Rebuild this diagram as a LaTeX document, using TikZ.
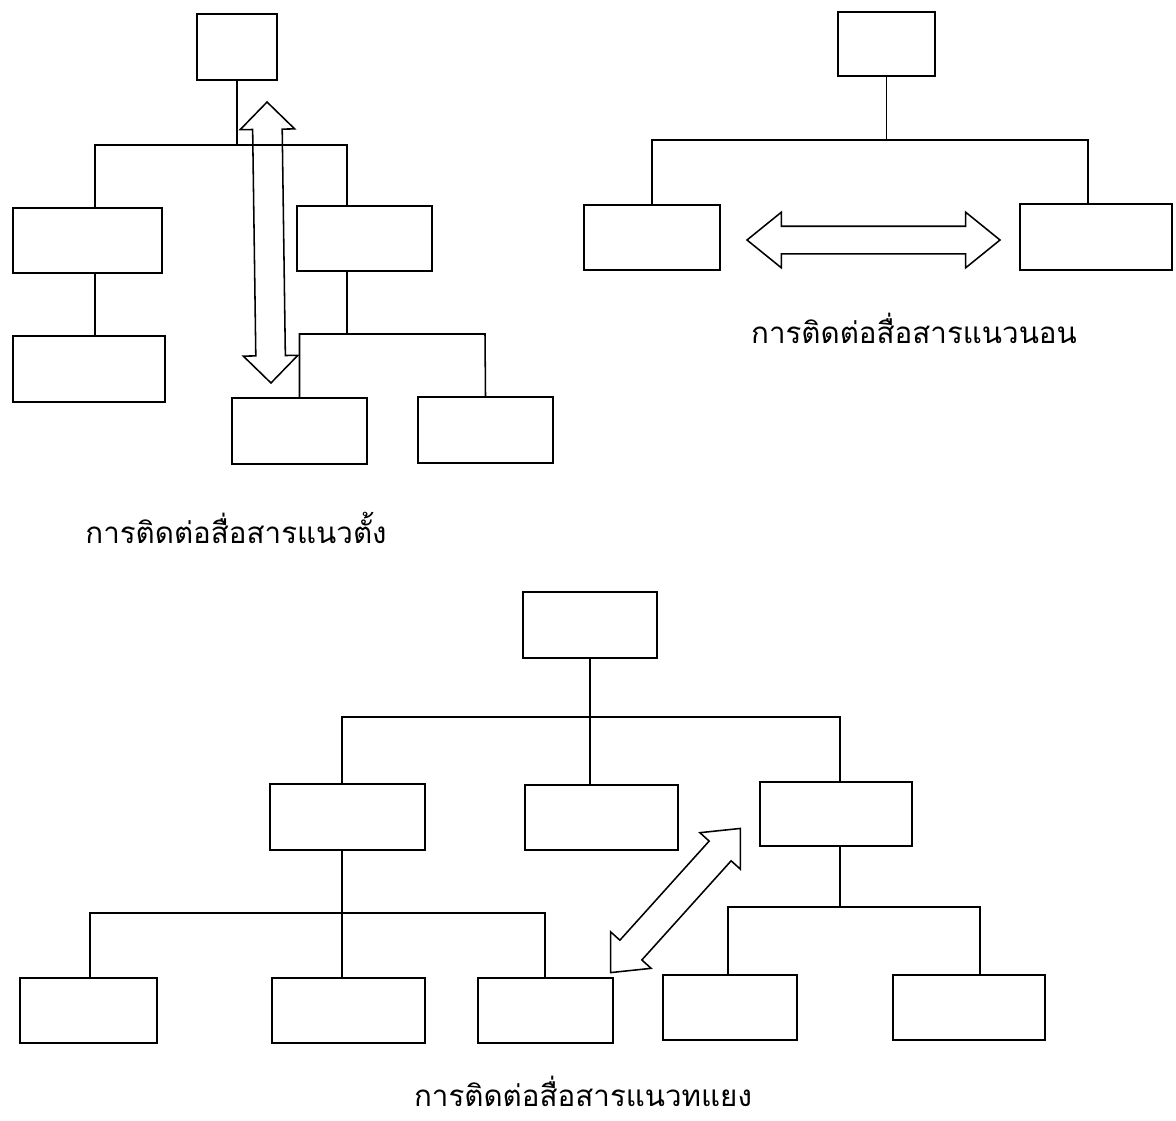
\documentclass[tikz,border=0pt]{standalone}
\usepackage{fontspec}
\newfontfamily\thaifont[Script=Thai]{Loma}
\usetikzlibrary{shapes.arrows}
\newcommand{\unitpx}{0.025cm}
\tikzset{
  box/.style   = {draw, line width=1.1pt, rectangle, inner sep=0pt},
  wire/.style  = {line width=1.1pt},
  comm/.style  = {draw, line width=1.1pt, double arrow, inner xsep=0pt,
                  inner ysep=14*\unitpx, double arrow head extend=12.5*\unitpx},
  lbl/.style   = {inner sep=0pt, font=\thaifont\fontsize{21}{25}\selectfont},
}
\newcommand{\orgbox}[5]{\node[box, minimum width=#4*\unitpx, minimum height=#5*\unitpx] (#1) at (#2,#3) {};}

\begin{document}
\begin{tikzpicture}[x=\unitpx, y=-\unitpx]
\useasboundingbox (0,0) rectangle (1176,1120);

\orgbox{vTop}{237}{47}{80}{66}
\orgbox{vL1}{87.5}{240.5}{149}{65}
\orgbox{vR1}{364.5}{238.5}{135}{65}
\orgbox{vL2}{89}{369}{152}{66}
\orgbox{vRa}{299.5}{431}{135}{66}
\orgbox{vRb}{485.5}{430}{135}{66}
\coordinate (vbusL) at (95,145);
\coordinate (vbusR) at (347,145);
\coordinate (vbus2) at (485,334);
\draw[wire] (vTop.south) -- (vTop |- vbusL);
\draw[wire] (vL1.north -| vbusL) |- (vbusR) -- (vR1.north -| vbusR);
\draw[wire] (vL1.south -| vbusL) -- (vL2.north -| vbusL);
\draw[wire] (vR1.south -| vbusR) -- (vbusR |- vbus2);
\draw[wire] (vRa.north) |- (vbus2) -- (vRb.north);
\node[comm, rotate=90.8, minimum height=281*\unitpx] (vArrow) at (269,242.5) {};
\node[lbl] (vText) at (236,528) {การติดต่อสื่อสารแนวตั้ง};

\orgbox{hTop}{886.5}{44}{97}{64}
\orgbox{hL}{652}{237.5}{136}{65}
\orgbox{hR}{1096}{237}{152}{66}
\coordinate (hbusL) at (652,140);
\coordinate (hbusR) at (1088,140);
\draw[wire] (hTop.south) -- (hTop |- hbusL);
\draw[wire] (hL.north) |- (hbusR) -- (hR.north -| hbusR);
\node[comm, double arrow tip angle=78, inner ysep=13*\unitpx, double arrow head extend=14*\unitpx,
      minimum height=253*\unitpx] (hArrow) at (873.5,240) {};
\node[lbl] (hText) at (914,328) {การติดต่อสื่อสารแนวนอน};

\orgbox{dTop}{590}{625}{134}{66}
\orgbox{dL}{347.5}{817}{155}{66}
\orgbox{dM}{601.5}{817.5}{153}{65}
\orgbox{dR}{836}{814}{152}{64}
\orgbox{dA}{88.5}{1010.5}{137}{65}
\orgbox{dB}{348.5}{1010.5}{153}{65}
\orgbox{dC}{545.5}{1010.5}{135}{65}
\orgbox{dD}{730}{1007.5}{134}{65}
\orgbox{dE}{969}{1007.5}{152}{65}
\coordinate (dbusL) at (342,717);
\coordinate (dbusR) at (840,717);
\coordinate (dbus2L) at (90,913);
\coordinate (dbus2R) at (545,913);
\coordinate (dbus3L) at (728,907);
\coordinate (dbus3R) at (980,907);
\draw[wire] (dTop.south) -- (dTop |- dbusL);
\draw[wire] (dL.north -| dbusL) |- (dbusR) -- (dR.north -| dbusR);
\draw[wire] (dTop |- dbusL) -- (dM.north -| dTop);
\draw[wire] (dL.south -| dbusL) -- (dB.north -| dbusL);
\draw[wire] (dA.north -| dbus2L) |- (dbus2R) -- (dC.north -| dbus2R);
\draw[wire] (dR.south -| dbusR) -- (dbusR |- dbus3L);
\draw[wire] (dD.north -| dbus3L) |- (dbus3R) -- (dE.north -| dbus3R);
\node[comm, rotate=48, double arrow tip angle=84, minimum height=194*\unitpx] (dArrow) at (675.5,900.5) {};
\node[lbl] (dText) at (583,1091) {การติดต่อสื่อสารแนวทแยง};
\end{tikzpicture}
\end{document}
